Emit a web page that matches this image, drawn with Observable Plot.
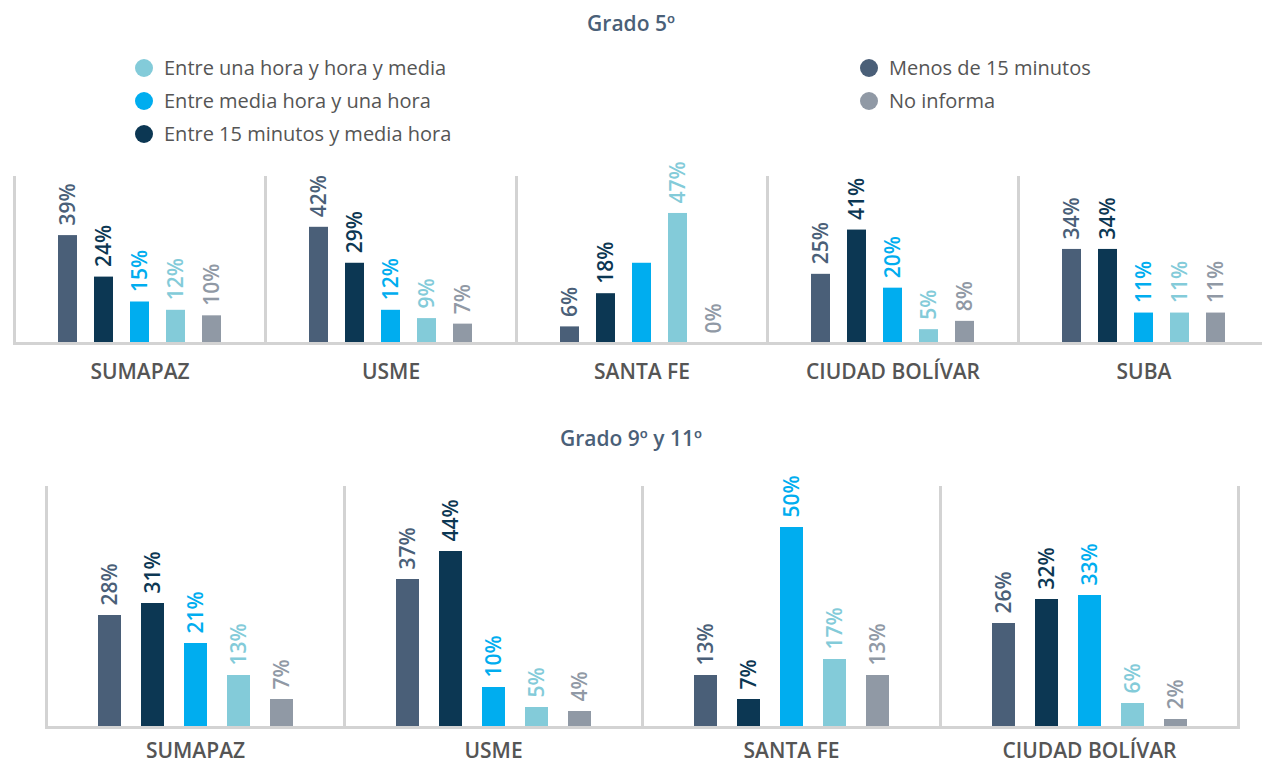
<!DOCTYPE html>
<html>
<head>
<meta charset="utf-8">
<script src="https://cdn.jsdelivr.net/npm/d3@7"></script>
<script src="https://cdn.jsdelivr.net/npm/@observablehq/plot@0.6"></script>
<style>
  html, body { margin: 0; padding: 0; background: #fff; width: 1262px; height: 763px; overflow: hidden; }
  body { position: relative; font-family: 'Open Sans', sans-serif; }
  .title { position: absolute; left: 0; width: 1262px; text-align: center; font-weight: 600; font-size: 21px; color: #4a6078; }
  .legend { position: absolute; font-size: 20px; color: #555; }
  .legend .item { height: 33px; line-height: 33px; white-space: nowrap; display: flex; align-items: center; }
  .legend .sw { width: 18px; height: 18px; border-radius: 50%; display: inline-block; margin-right: 11px; }
  .chart { position: absolute; left: 0; width: 1262px; overflow: hidden; }
  .chart svg { max-width: none !important; }
</style>
</head>
<body>
<div class="title" id="t1" style="top:9px;">Grado 5º</div>
<div class="legend" id="legL" style="left:135px; top:51px;"></div>
<div class="legend" id="legR" style="left:860px; top:51px;"></div>
<div class="chart" id="c1" style="top:145px;"></div>
<div class="title" id="t2" style="top:424px;">Grado 9º y 11º</div>
<div class="chart" id="c2" style="top:460px;"></div>
<script>
// Categories (series) and colours
const categories = [
  "Menos de 15 minutos",
  "Entre 15 minutos y media hora",
  "Entre media hora y una hora",
  "Entre una hora y hora y media",
  "No informa"
];
const colors = ["#4a5f78", "#0c3753", "#00adef", "#83cbd9", "#9099a5"];

// Legend order as shown
const legendLeft = ["Entre una hora y hora y media", "Entre media hora y una hora", "Entre 15 minutos y media hora"];
const legendRight = ["Menos de 15 minutos", "No informa"];

// Grado 5º
const districts5 = ["SUMAPAZ", "USME", "SANTA FE", "CIUDAD BOLÍVAR", "SUBA"];
const g5_menos15 = [39, 42, 6, 25, 34];
const g5_15a30 = [24, 29, 18, 41, 34];
const g5_30a60 = [15, 12, 29, 20, 11];
const g5_60a90 = [12, 9, 47, 5, 11];
const g5_noInforma = [10, 7, 0, 8, 11];
const g5_hiddenLabels = [["SANTA FE", "Entre media hora y una hora"]];

// Grado 9º y 11º
const districts9 = ["SUMAPAZ", "USME", "SANTA FE", "CIUDAD BOLÍVAR"];
const g9_menos15 = [28, 37, 13, 26];
const g9_15a30 = [31, 44, 7, 32];
const g9_30a60 = [21, 10, 50, 33];
const g9_60a90 = [13, 5, 17, 6];
const g9_noInforma = [7, 4, 13, 2];
const g9_hiddenLabels = [];

function buildRows(districts, series, hidden) {
  const rows = [];
  districts.forEach((d, i) => {
    categories.forEach((c, j) => {
      rows.push({
        district: d,
        cat: c,
        value: series[j][i],
        showLabel: !hidden.some(h => h[0] === d && h[1] === c)
      });
    });
  });
  return rows;
}

const rows5 = buildRows(districts5, [g5_menos15, g5_15a30, g5_30a60, g5_60a90, g5_noInforma], g5_hiddenLabels);
const rows9 = buildRows(districts9, [g9_menos15, g9_15a30, g9_30a60, g9_60a90, g9_noInforma], g9_hiddenLabels);

function makeChart(rows, districts, opts) {
  const frameStyle = {stroke: "#d3d3d3", strokeWidth: 3};
  const marks = [
    Plot.barY(rows, {fx: "district", x: "cat", y: "value", fill: "cat"}),
    Plot.text(rows.filter(d => d.showLabel), {
      fx: "district", x: "cat", y: "value",
      text: d => d.value + "%",
      rotate: -90, textAnchor: "start", dy: -10,
      fill: "cat", fontSize: 21, fontWeight: 600
    }),
    Plot.frame({anchor: "left", ...frameStyle}),
    Plot.frame({anchor: "bottom", ...frameStyle})
  ];
  if (opts.rightLine) marks.push(Plot.frame({anchor: "right", ...frameStyle}));
  return Plot.plot({
    width: opts.width,
    height: opts.height,
    marginLeft: opts.marginLeft,
    marginRight: opts.marginRight,
    marginTop: opts.marginTop,
    marginBottom: opts.marginBottom,
    style: {fontFamily: "'Open Sans', sans-serif", fontSize: "21px", fontWeight: 600, color: "#555", background: "transparent", overflow: "visible", maxWidth: "none"},
    fx: {domain: districts, padding: 0, label: null, tickSize: 0, tickPadding: opts.tickPadding, axis: "bottom"},
    x: {domain: categories, paddingInner: 0.47, paddingOuter: 1.13, axis: null},
    y: {domain: [0, 60], axis: null},
    color: {domain: categories, range: colors},
    marks
  });
}

document.getElementById("c1").appendChild(makeChart(rows5, districts5, {
  width: 1270, height: 253, marginLeft: 12, marginRight: 0, marginTop: 32, marginBottom: 55, tickPadding: 21, rightLine: false
}));
document.getElementById("c2").appendChild(makeChart(rows9, districts9, {
  width: 1262, height: 303, marginLeft: 45, marginRight: 24, marginTop: 27, marginBottom: 36, tickPadding: 16, rightLine: true
}));

function fillLegend(id, list) {
  const el = document.getElementById(id);
  list.forEach(name => {
    const item = document.createElement("div");
    item.className = "item";
    const sw = document.createElement("span");
    sw.className = "sw";
    sw.style.background = colors[categories.indexOf(name)];
    const tx = document.createElement("span");
    tx.textContent = name;
    item.appendChild(sw);
    item.appendChild(tx);
    el.appendChild(item);
  });
}
fillLegend("legL", legendLeft);
fillLegend("legR", legendRight);
</script>
</body>
</html>
